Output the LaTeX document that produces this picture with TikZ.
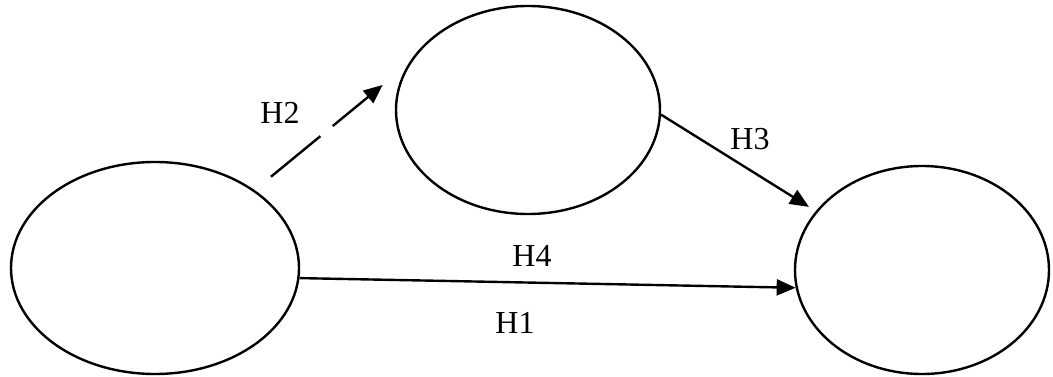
\documentclass[tikz,border=0pt]{standalone}
\usepackage{fontspec}
\setmainfont{Liberation Serif}
\usetikzlibrary{shapes.geometric,arrows.meta}
\begin{document}
\begin{tikzpicture}[x=1pt,y=-1pt,
  construct/.style={draw, line width=2.4pt, ellipse, inner sep=0pt},
  link/.style={line width=2.4pt, -{Triangle[length=19pt,width=16pt]}},
  lab/.style={font=\fontsize{32}{38}\selectfont, inner sep=0pt}]
\useasboundingbox (0,0) rectangle (1053,377);
\node[construct, minimum width=288pt, minimum height=212pt] (L) at (155,268) {};
\node[construct, minimum width=264pt, minimum height=208pt] (M) at (528,110) {};
\node[construct, minimum width=254pt, minimum height=208pt] (R) at (922,270) {};
\draw[link, dash pattern=on 64pt off 16pt, shorten <=21pt, shorten >=33pt] (L.38) -- (M.159);
\draw[link, shorten >=8pt] (M.-2) -- (R.151.7);
\draw[link] (L.-4) -- (R.-172);
\node[lab] (h2) at (280,113) {H2};
\node[lab] (h3) at (750,139) {H3};
\node[lab] (h4) at (532,256) {H4};
\node[lab] (h1) at (515,323) {H1};
\end{tikzpicture}
\end{document}
